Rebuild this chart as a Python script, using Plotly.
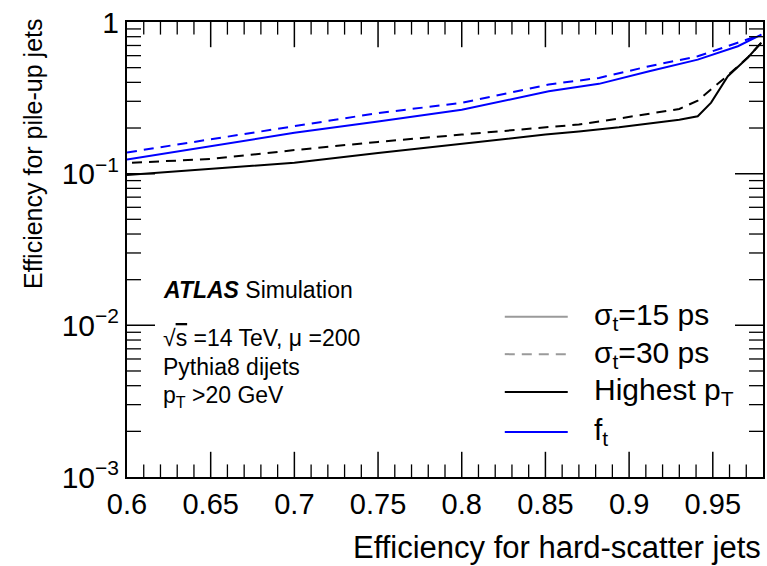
import plotly.graph_objects as go

# ---- data ----
x_hpt_15 = [0.600, 0.650, 0.700, 0.750, 0.800, 0.850, 0.870, 0.894, 0.930, 0.941, 0.949, 0.959, 0.971, 0.979]
y_hpt_15 = [0.098, 0.107, 0.118, 0.137, 0.158, 0.181, 0.190, 0.202, 0.227, 0.239, 0.294, 0.439, 0.583, 0.732]

x_hpt_30 = [0.603, 0.650, 0.700, 0.750, 0.800, 0.850, 0.870, 0.894, 0.930, 0.941, 0.949, 0.955, 0.959, 0.971, 0.979]
y_hpt_30 = [0.118, 0.125, 0.143, 0.162, 0.181, 0.203, 0.211, 0.231, 0.267, 0.303, 0.358, 0.410, 0.445, 0.585, 0.732]

x_ft_15 = [0.600, 0.650, 0.700, 0.750, 0.800, 0.852, 0.882, 0.912, 0.941, 0.965, 0.979]
y_ft_15 = [0.124, 0.151, 0.186, 0.221, 0.264, 0.349, 0.391, 0.473, 0.565, 0.692, 0.826]

x_ft_30 = [0.600, 0.650, 0.700, 0.750, 0.800, 0.852, 0.882, 0.912, 0.941, 0.965, 0.979]
y_ft_30 = [0.138, 0.168, 0.205, 0.251, 0.293, 0.387, 0.428, 0.511, 0.594, 0.729, 0.826]

X_MIN, X_MAX = 0.6, 0.98
Y_MIN, Y_MAX = 1e-3, 1.0

x_tick_vals = [0.60, 0.65, 0.70, 0.75, 0.80, 0.85, 0.90, 0.95]
x_tick_text = ["0.6", "0.65", "0.7", "0.75", "0.8", "0.85", "0.9", "0.95"]
x_minor_vals = [round(0.60 + 0.01 * i, 2) for i in range(1, 38) if i % 5 != 0]

y_tick_vals = [1e-3, 1e-2, 1e-1, 1]
y_tick_text = ["10<sup>\u22123</sup>", "10<sup>\u22122</sup>", "10<sup>\u22121</sup>", "1"]
y_minor_vals = [k * 10.0 ** d for d in (-3, -2, -1) for k in range(2, 10)]

legend_labels = ["\u03c3<sub>t</sub>=15 ps", "\u03c3<sub>t</sub>=30 ps",
                 "Highest p<sub>T</sub>", "f<sub>t</sub>"]
legend_colors = ["#9a9a9a", "#9a9a9a", "black", "blue"]
legend_dash = ["solid", "dash", "solid", "solid"]

FONT = "Liberation Sans, Arial, Helvetica, sans-serif"
DASH = "10px,7px"

fig = go.Figure()
fig.add_trace(go.Scatter(x=x_hpt_15, y=y_hpt_15, mode="lines",
                         line=dict(color="black", width=2)))
fig.add_trace(go.Scatter(x=x_hpt_30, y=y_hpt_30, mode="lines",
                         line=dict(color="black", width=2, dash=DASH)))
fig.add_trace(go.Scatter(x=x_ft_15, y=y_ft_15, mode="lines",
                         line=dict(color="blue", width=2)))
fig.add_trace(go.Scatter(x=x_ft_30, y=y_ft_30, mode="lines",
                         line=dict(color="blue", width=2, dash=DASH)))

# inside tick marks on all four sides: line markers centred on the frame,
# clipped to the plot area so only the inner half shows
def tick_trace(xs, ys, symbol, half_len, width):
    fig.add_trace(go.Scatter(x=xs, y=ys, mode="markers", hoverinfo="skip", cliponaxis=True,
                             marker=dict(symbol=symbol, size=2 * half_len, color="black",
                                         line=dict(color="black", width=width))))

xt_major = x_tick_vals[1:]
tick_trace(xt_major * 2, [Y_MIN] * len(xt_major) + [Y_MAX] * len(xt_major), "line-ns", 18, 1.5)
tick_trace(x_minor_vals * 2, [Y_MIN] * len(x_minor_vals) + [Y_MAX] * len(x_minor_vals), "line-ns", 9, 1.3)
yt_major = y_tick_vals[1:-1]
tick_trace([X_MIN] * len(yt_major) + [X_MAX] * len(yt_major), yt_major * 2, "line-ew", 20, 1.5)
tick_trace([X_MIN] * len(y_minor_vals) + [X_MAX] * len(y_minor_vals), y_minor_vals * 2, "line-ew", 10, 1.3)

fig.update_layout(
    width=767, height=566,
    margin=dict(l=127, r=4, t=22, b=89),
    paper_bgcolor="white", plot_bgcolor="white",
    showlegend=False,
    font=dict(family=FONT, color="black"),
)
fig.update_xaxes(
    range=[X_MIN, X_MAX], tickmode="array", tickvals=x_tick_vals, ticktext=x_tick_text,
    showgrid=False, zeroline=False, automargin=False,
    showline=True, linecolor="black", linewidth=2, mirror=True,
    ticks="", tickfont=dict(size=29, family=FONT),
)
fig.update_yaxes(
    type="log", range=[-3, 0],
    tickmode="array", tickvals=y_tick_vals, ticktext=y_tick_text,
    showgrid=False, zeroline=False, automargin=False,
    showline=True, linecolor="black", linewidth=2, mirror=True,
    ticks="", tickfont=dict(size=30, family=FONT),
)

# axis titles (aligned to the axis end, as in ROOT)
fig.add_annotation(text="Efficiency for hard-scatter jets", xref="paper", yref="paper",
                   x=1.0, y=-0.156, xanchor="right", yanchor="middle", showarrow=False,
                   font=dict(size=31, family=FONT))
fig.add_annotation(text="Efficiency for pile-up jets", xref="paper", yref="paper",
                   x=-0.148, y=1.014, xanchor="center", yanchor="top", textangle=-90,
                   showarrow=False, font=dict(size=25, family=FONT))

# ATLAS label block
info_lines = [
    ("<b><i>ATLAS</i></b> Simulation", 0.411),
    ("\u221a<span style='text-decoration:overline'>s</span> =14 TeV, \u03bc =200", 0.306),
    ("Pythia8 dijets", 0.242),
    ("p<sub>T</sub> >20 GeV", 0.178),
]
for txt, yy in info_lines:
    fig.add_annotation(text=txt, xref="paper", yref="paper", x=0.0535, y=yy,
                       xanchor="left", yanchor="middle", showarrow=False,
                       font=dict(size=23, family=FONT))

# legend drawn by hand (long line samples as in the reference)
leg_y = [0.352, 0.270, 0.187, 0.099]
for lab, col, dsh, yy in zip(legend_labels, legend_colors, legend_dash, leg_y):
    fig.add_shape(type="line", xref="paper", yref="paper", x0=0.594, x1=0.693, y0=yy, y1=yy,
                  line=dict(color=col, width=2, dash=DASH if dsh == "dash" else "solid"))
    fig.add_annotation(text=lab, xref="paper", yref="paper", x=0.731, y=yy,
                       xanchor="left", yanchor="middle", showarrow=False,
                       font=dict(size=30, family=FONT))

fig.write_html("out.html", config={"displayModeBar": False},
               post_script="document.body.style.margin='0px';")
